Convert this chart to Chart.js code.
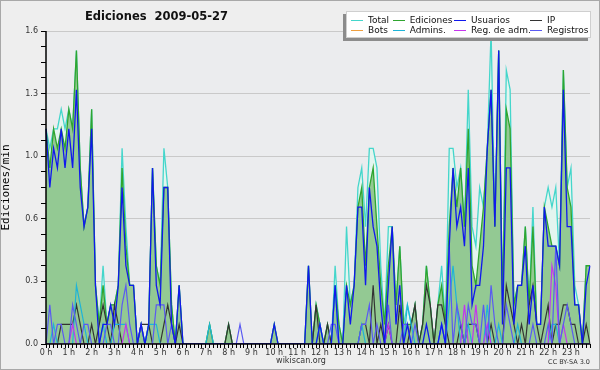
<!DOCTYPE html>
<html><head><meta charset="utf-8">
<script src="https://cdn.jsdelivr.net/npm/chart.js@4.4.1/dist/chart.umd.min.js"></script>
<style>
html,body{margin:0;padding:0;background:#eeeeee;}
#wrap{position:relative;width:600px;height:370px;overflow:hidden;}
canvas{display:block;}
#legend{position:absolute;left:346px;top:11px;width:243px;height:25px;background:#fff;border:1px solid #cfcfcf;box-shadow:-3px 3px 0 #8c8c8c;font:9px "DejaVu Sans",sans-serif;color:#111;}
.item{position:absolute;height:10px;line-height:10px;white-space:nowrap;}
.item i{position:absolute;left:0;top:4.5px;width:12px;height:1.3px;}
.item span{position:absolute;left:17px;top:0;}
</style></head>
<body><div id="wrap"><canvas id="c" width="600" height="370"></canvas><div id="legend"></div></div>
<script>
const hourLabels = ['0 h','1 h','2 h','3 h','4 h','5 h','6 h','7 h','8 h','9 h','10 h','11 h','12 h','13 h','14 h','15 h','16 h','17 h','18 h','19 h','20 h','21 h','22 h','23 h'];
const minuteSlots = ['00','10','20','30','40','50'];
const yTickLabels = ['0.0','0.3','0.6','1.0','1.3','1.6'];
const seriesNames = ['Total','Ediciones','Usuarios','IP','Bots','Admins.','Reg. de adm.','Registros'];

const total = [
1.1,1.0,1.1,1.1,1.2,1.1,1.2,1.1,1.5,0.9,0.6,0.7,
1.2,0.3,0.1,0.4,0.1,0.2,0.2,0.3,1.0,0.6,0.3,0.3,
0,0.1,0,0.1,0.9,0.4,0.3,1.0,0.8,0.2,0,0.3,
0,0,0,0,0,0,0,0.1,0,0,0,0,
0.1,0,0,0,0,0,0,0,0,0,0,0,
0.1,0,0,0,0,0,0,0,0,0.4,0,0.2,
0.1,0,0.1,0,0.4,0.1,0,0.6,0.2,0.3,0.8,0.9,
0.6,1.0,1.0,0.9,0.4,0.1,0.6,0.6,0.2,0.5,0.1,0.2,
0.1,0.2,0,0.1,0.4,0.2,0,0.2,0.4,0.1,1.0,1.0,
0.8,0.9,0.6,1.3,0.6,0.5,0.8,0.7,1.0,1.6,0.6,1.5,
0.2,1.4,1.3,0.2,0.3,0.3,0.6,0.2,0.7,0.1,0.1,0.7,
0.8,0.7,0.8,0.4,1.4,0.8,0.9,0.3,0.2,0,0.4,0.4];

const ediciones = [
1.1,0.9,1.1,1.0,1.1,1.0,1.2,1.1,1.5,0.9,0.6,0.7,
1.2,0.3,0.1,0.3,0.1,0.2,0.2,0.3,0.9,0.5,0.3,0.3,
0,0.1,0,0.1,0.9,0.4,0.3,0.8,0.8,0.2,0,0.3,
0,0,0,0,0,0,0,0.1,0,0,0,0,
0.1,0,0,0,0,0,0,0,0,0,0,0,
0.1,0,0,0,0,0,0,0,0,0.4,0,0.2,
0.1,0,0.1,0,0.3,0.1,0,0.3,0.2,0.3,0.7,0.8,
0.4,0.8,0.9,0.6,0.3,0.1,0.4,0.6,0.2,0.5,0.1,0.1,
0.1,0.2,0,0.1,0.4,0.2,0,0.2,0.3,0.1,0.6,0.9,
0.7,0.9,0.6,1.1,0.4,0.3,0.5,0.7,1.0,1.3,0.6,1.5,
0.2,1.2,1.1,0.2,0.3,0.3,0.6,0.2,0.6,0.1,0.1,0.7,
0.6,0.5,0.5,0.4,1.4,0.8,0.7,0.2,0.2,0,0.4,0.4];

const usuarios = [
1.1,0.8,1.0,0.9,1.1,0.9,1.1,0.9,1.3,0.8,0.6,0.7,
1.1,0.3,0,0.1,0.1,0.2,0.1,0.3,0.8,0.4,0.3,0.3,
0,0.1,0,0.1,0.9,0.3,0.2,0.8,0.8,0.1,0,0.3,
0,0,0,0,0,0,0,0,0,0,0,0,
0,0,0,0,0,0,0,0,0,0,0,0,
0.1,0,0,0,0,0,0,0,0,0.4,0,0,
0.1,0,0,0,0.3,0,0,0.3,0.1,0.3,0.7,0.7,
0.3,0.8,0.6,0.5,0.2,0,0.3,0.6,0.1,0.3,0,0.1,
0,0,0,0,0.1,0,0,0,0.1,0,0.5,0.9,
0.6,0.7,0.5,0.9,0.2,0.3,0.3,0.5,1.0,1.3,0.6,1.5,
0.1,0.9,0.9,0.1,0.3,0.3,0.5,0.1,0.3,0.1,0.1,0.7,
0.5,0.5,0.5,0.4,1.3,0.6,0.6,0.2,0.2,0,0.3,0.4];

const ip = [
0,0,0,0,0.1,0.1,0.1,0.1,0.2,0.1,0,0,
0.1,0,0.1,0.2,0.1,0,0.2,0.1,0,0,0,0,
0,0.1,0.1,0.1,0,0,0,0.1,0.2,0.1,0,0.1,
0,0,0,0,0,0,0,0,0,0,0,0,
0.1,0,0,0,0,0,0,0,0,0,0,0,
0,0,0,0,0,0,0,0,0,0,0,0.2,
0,0,0.1,0,0,0,0,0,0,0,0,0.1,
0.1,0,0.3,0,0.1,0,0.1,0,0,0.2,0,0,
0.1,0.2,0,0.1,0.3,0.2,0,0.2,0.2,0.1,0,0,
0,0.1,0,0.1,0.1,0.1,0,0,0,0.1,0,0,
0,0.3,0.2,0.1,0,0.1,0,0.2,0.3,0.1,0,0.1,
0.2,0,0.1,0.1,0.2,0.2,0.1,0.1,0,0,0.1,0];

const bots = [
0,0,0,0,0,0,0,0,0,0,0,0,
0,0,0,0,0,0,0,0,0,0,0,0,
0,0,0,0,0,0,0,0,0,0,0,0,
0,0,0,0,0,0,0,0,0,0,0,0,
0,0,0,0,0,0,0,0,0,0,0,0,
0,0,0,0,0,0,0,0,0,0,0,0,
0,0,0,0,0,0,0,0,0,0,0,0,
0,0,0,0,0,0,0,0,0,0,0,0,
0,0,0,0,0,0,0,0,0,0,0,0,
0,0,0,0,0,0,0,0,0,0,0,0,
0,0,0,0,0,0,0,0,0,0,0,0,
0,0,0,0,0,0,0,0,0,0,0,0];

const admins = [
0,0,0.1,0,0,0,0,0,0.3,0.2,0.1,0,
0,0,0,0.1,0,0,0.1,0.1,0.1,0.1,0,0,
0,0,0,0.1,0.1,0.1,0,0,0,0,0,0,
0,0,0,0,0,0,0,0.1,0,0,0,0,
0,0,0,0,0,0,0,0,0,0,0,0,
0,0,0,0,0,0,0,0,0,0,0,0,
0.1,0,0,0,0.3,0,0,0,0,0,0,0.1,
0,0,0,0,0,0,0,0,0,0,0,0.2,
0.1,0,0,0,0,0,0,0,0.1,0,0.2,0.4,
0.2,0,0,0.1,0,0,0,0,0.2,0,0,0.1,
0,0,0,0,0.1,0,0,0,0,0,0,0,
0,0.1,0.1,0,0,0,0,0,0,0,0,0];

const regAdm = [
0,0,0,0,0,0,0,0.1,0,0,0,0,
0,0,0,0,0,0,0,0,0,0.1,0,0,
0,0,0,0,0,0,0,0,0,0,0,0,
0,0,0,0,0,0,0,0,0,0,0,0,
0,0,0,0,0,0,0,0,0,0,0,0,
0,0,0,0,0,0,0,0,0,0,0,0,
0,0,0,0,0,0,0,0,0,0,0,0,
0,0,0,0,0,0,0.1,0,0,0,0,0,
0,0,0,0,0,0,0,0,0,0,0,0,
0,0,0.2,0,0,0.2,0,0,0.1,0,0,0,
0,0,0,0,0,0,0,0,0,0,0,0,
0,0.4,0.3,0,0.1,0,0,0,0,0,0,0];

const registros = [
0,0.2,0,0.1,0.1,0,0,0.2,0.1,0,0.1,0.1,
0,0,0,0,0.1,0.1,0,0,0.2,0.3,0.1,0,
0,0.1,0,0,0,0.2,0.2,0.2,0,0.1,0,0,
0,0,0,0,0,0,0,0,0,0,0,0,
0,0,0,0.1,0,0,0,0,0,0,0,0,
0,0,0,0,0,0,0,0,0,0,0,0,
0,0,0,0.1,0.1,0,0,0,0,0,0,0.1,
0.1,0.2,0,0.1,0,0,0.2,0,0,0,0.1,0.1,
0,0.1,0,0,0,0,0,0,0.1,0,0.5,0,
0.2,0.1,0,0.2,0.1,0.1,0,0.2,0,0.3,0.1,0,
0,0.2,0.1,0,0,0,0,0,0.1,0,0,0,
0.1,0,0.5,0,0.1,0.2,0.1,0,0,0,0,0];

const slots = [];
hourLabels.forEach(h => minuteSlots.forEach(m => slots.push(h.replace(' h','') + ':' + m)));

const FONT = '"DejaVu Sans", sans-serif';

function ds(label, data, color, width, order, extra) {
  return Object.assign({label, data, borderColor: color, backgroundColor: color,
    borderWidth: width, pointRadius: 0, tension: 0, fill: false, order}, extra || {});
}

const datasets = [
  ds(seriesNames[0], total, '#44d6cb', 1.3, 8, {fill: 'origin', backgroundColor: '#e3f5ef'}),
  ds(seriesNames[1], ediciones, '#2fa52f', 1.3, 7, {fill: 'origin', backgroundColor: '#93c993'}),
  ds(seriesNames[2], usuarios, '#1018ee', 1.3, 1),
  ds(seriesNames[3], ip, '#333333', 1.2, 5),
  ds(seriesNames[4], bots, '#f0a040', 1.2, 6),
  ds(seriesNames[5], admins, '#1eb4d8', 1.2, 4),
  ds(seriesNames[6], regAdm, '#c535ee', 1.2, 3),
  ds(seriesNames[7], registros, '#5a5af2', 1.2, 2)
];

const decor = {
  id: 'decor',
  beforeDraw(chart) {
    const {ctx, chartArea: a} = chart;
    ctx.save();
    ctx.fillStyle = '#eeeeee';
    ctx.fillRect(0, 0, chart.width, chart.height);
    ctx.fillStyle = '#ebecee';
    ctx.fillRect(a.left, a.top, a.right - a.left, a.bottom - a.top);
    ctx.restore();
  },
  afterDatasetsDraw(chart) {
    const {ctx, chartArea: a} = chart;
    ctx.save();
    ctx.strokeStyle = '#000';
    ctx.lineWidth = 1.5;
    ctx.beginPath();
    ctx.moveTo(a.left, a.top);
    ctx.lineTo(a.left, a.bottom);
    ctx.lineTo(a.right, a.bottom);
    ctx.stroke();
    ctx.restore();
  },
  afterDraw(chart) {
    const {ctx} = chart;
    ctx.save();
    ctx.fillStyle = '#111';
    ctx.textBaseline = 'middle';
    ctx.font = 'bold 11.5px ' + FONT;
    ctx.textAlign = 'left';
    ctx.fillText('Ediciones  2009-05-27', 85, 17);
    ctx.font = '8px ' + FONT;
    ctx.fillStyle = '#333';
    ctx.textAlign = 'center';
    ctx.fillText('wikiscan.org', 301, 361);
    ctx.font = '6.5px ' + FONT;
    ctx.textAlign = 'right';
    ctx.fillText('CC BY-SA 3.0', 590, 362);
    ctx.strokeStyle = '#a8a8a8';
    ctx.lineWidth = 1;
    ctx.strokeRect(0.5, 0.5, chart.width - 1, chart.height - 1);
    ctx.restore();
  }
};

const chart = new Chart(document.getElementById('c'), {
  type: 'line',
  data: {labels: slots, datasets},
  options: {
    responsive: false,
    animation: false,
    devicePixelRatio: 1,
    layout: {padding: {top: 31, right: 10, left: 0, bottom: 0}},
    plugins: {legend: {display: false}, title: {display: false}, tooltip: {enabled: false}},
    scales: {
      x: {
        type: 'category',
        offset: false,
        border: {display: false},
        grid: {drawOnChartArea: false, drawTicks: true, tickLength: 4, tickColor: '#000', tickWidth: 1},
        ticks: {autoSkip: false, maxRotation: 0, minRotation: 0, padding: 0, color: '#333',
          font: {family: FONT, size: 8},
          callback: (v, i) => (i % 6 === 0 ? hourLabels[i / 6] : '')},
        afterFit: s => { s.height = 26; }
      },
      y: {
        type: 'linear',
        min: 0, max: 1.6,
        border: {display: false},
        grid: {
          color: c => (c.tick && c.tick.value > 0.01 && Math.round(c.tick.value / 0.08) % 4 === 0) ? '#c9c9c9' : 'rgba(0,0,0,0)',
          tickColor: '#000', tickLength: 5, lineWidth: 1, tickWidth: 1
        },
        ticks: {stepSize: 0.08, padding: 3, color: '#333', font: {family: FONT, size: 8},
          callback: v => { const k = Math.round(v / 0.08); return k % 4 === 0 ? yTickLabels[k / 4] : ''; }},
        title: {display: true, text: 'Ediciones/min', color: '#000', padding: {top: 0, bottom: 0},
          font: {family: '"DejaVu Sans Mono", monospace', size: 11}},
        afterFit: s => { s.width = 46; }
      }
    }
  },
  plugins: [decor]
});

// HTML legend built from the chart's datasets (4 columns x 2 rows)
const colX = [4, 45.7, 107, 183];
const legend = document.getElementById('legend');
chart.data.datasets.forEach((d, k) => {
  const el = document.createElement('div');
  el.className = 'item';
  el.style.left = colX[k % 4] + 'px';
  el.style.top = (3 + Math.floor(k / 4) * 10) + 'px';
  const sw = document.createElement('i');
  sw.style.background = d.borderColor;
  const tx = document.createElement('span');
  tx.textContent = d.label;
  el.appendChild(sw); el.appendChild(tx);
  legend.appendChild(el);
});
</script>
</body></html>
